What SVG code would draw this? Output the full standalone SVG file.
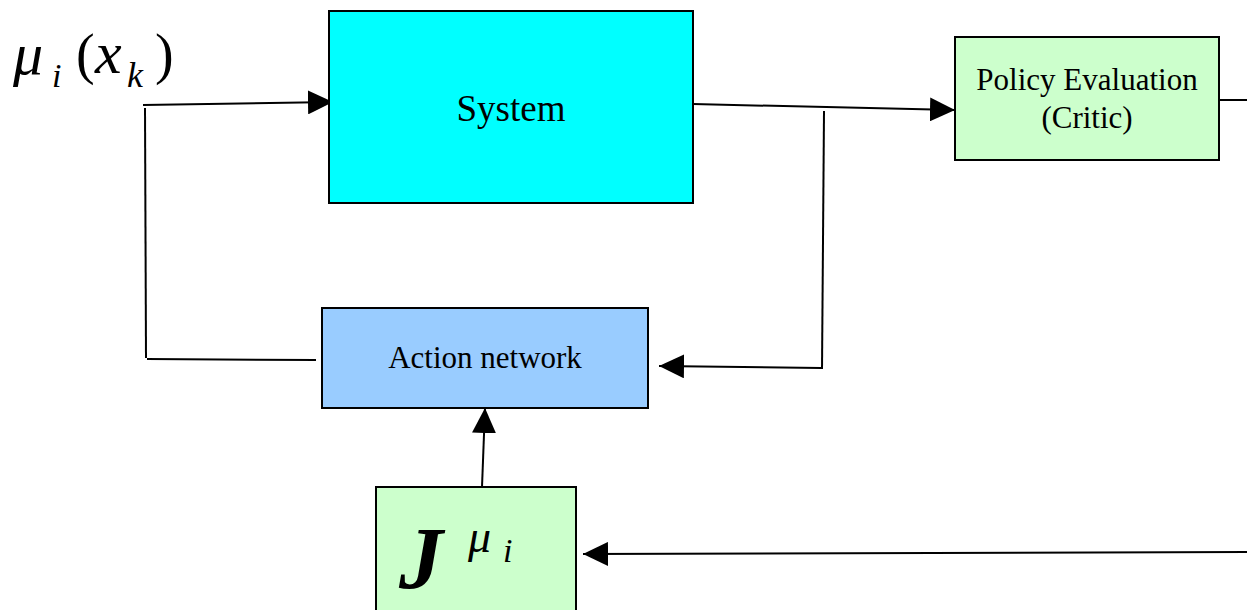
<svg xmlns="http://www.w3.org/2000/svg" width="1247" height="610" viewBox="0 0 1247 610">
<style>
.box{stroke:#000;stroke-width:2}
.ln{stroke:#000;stroke-width:2;fill:none}
.t{font-family:"Liberation Serif","Times New Roman",serif;fill:#000}
.m{font-family:"Liberation Serif","Times New Roman",serif;font-style:italic;fill:#000}
</style>
<defs>
<marker id="ahb" viewBox="0 0 25 24" refX="25" refY="12" markerWidth="25" markerHeight="24" markerUnits="userSpaceOnUse" orient="auto">
<path d="M0,0 L25,12 L0,24 z" fill="#000"/>
</marker>
</defs>
<rect width="1247" height="610" fill="#fff"/>
<g id="connectors">
<path class="ln" d="M143,105 L333,102" marker-end="url(#ahb)"/>
<path class="ln" d="M145,108 L146,358"/>
<path class="ln" d="M147,359 L316,360"/>
<path class="ln" d="M693,104 L955,110" marker-end="url(#ahb)"/>
<path class="ln" d="M824,111 L822,369"/>
<path class="ln" d="M821,368 L659,366" marker-end="url(#ahb)"/>
<path class="ln" d="M482,487 L485,408" marker-end="url(#ahb)"/>
<path class="ln" d="M1219,100 L1247,100"/>
<path class="ln" d="M1247,552 L583,554" marker-end="url(#ahb)"/>
</g>
<g id="label-mu">
<text class="m" x="13" y="74" font-size="60">μ</text>
<text class="m" x="52" y="87" font-size="34">i</text>
<text class="t" x="76" y="73" font-size="56">(</text>
<text class="m" x="95" y="73" font-size="60">x</text>
<text class="m" x="127" y="87" font-size="36">k</text>
<text class="t" x="155" y="73" font-size="56">)</text>
</g>
<g id="system">
<rect class="box" x="329" y="11" width="364" height="192" fill="#00FFFF"/>
<text class="t" x="511" y="121" font-size="37" text-anchor="middle">System</text>
</g>
<g id="policy">
<rect class="box" x="955" y="37" width="264" height="123" fill="#CCFFCC"/>
<text class="t" x="1087" y="90" font-size="31" text-anchor="middle">Policy Evaluation</text>
<text class="t" x="1087" y="128" font-size="31" text-anchor="middle">(Critic)</text>
</g>
<g id="action">
<rect class="box" x="322" y="308" width="326" height="100" fill="#99CCFF"/>
<text class="t" x="485" y="368" font-size="31" text-anchor="middle">Action network</text>
</g>
<g id="jbox">
<rect class="box" x="376" y="487" width="200" height="130" fill="#CCFFCC"/>
<text class="m" x="399" y="588" font-size="88" font-weight="bold">J</text>
<text class="m" x="468" y="552" font-size="46">μ</text>
<text class="m" x="503" y="562" font-size="34">i</text>
</g>
</svg>
